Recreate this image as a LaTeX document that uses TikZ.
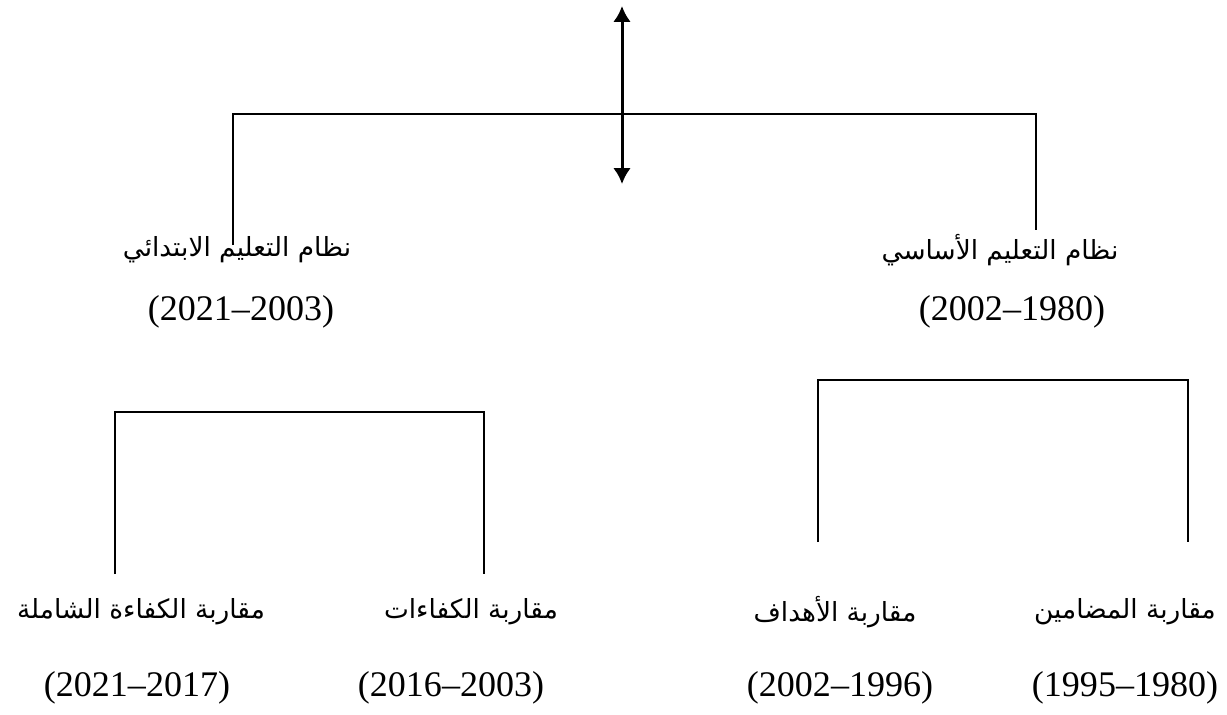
\documentclass[tikz,border=0pt]{standalone}
\usepackage{fontspec}
\setmainfont{Liberation Serif}
\newfontfamily\arabicfont[Script=Arabic]{DejaVu Sans}
\TeXXeTstate=1
\usepackage{tikz}
\usetikzlibrary{arrows.meta}

\begin{document}
\begin{tikzpicture}[x=0.02cm,y=-0.02cm,
	lbl/.style={inner sep=0pt,font=\arabicfont\fontsize{15}{18}\selectfont},
	yr/.style={inner sep=0pt,font=\fontsize{20.5}{24}\selectfont},
	ln/.style={draw=black,line width=0.9pt},
	updown/.style={draw=black,line width=1.7pt,{Latex[length=9pt,width=10pt]}-{Latex[length=9pt,width=10pt]}}]
	\useasboundingbox (0,0) rectangle (1227,714);

	% labels
	\node[lbl] (ibt) at (237, 250)  {\beginR نظام التعليم الابتدائي\endR};
	\node[lbl] (asa) at (1000, 250) {\beginR نظام التعليم الأساسي\endR};
	\node[yr]  (ibty) at (241, 312) {(2021–2003)};
	\node[yr]  (asay) at (1012, 312) {(2002–1980)};

	\node[lbl] (shm) at (141, 612)  {\beginR مقاربة الكفاءة الشاملة\endR};
	\node[lbl] (kaf) at (471, 612)  {\beginR مقاربة الكفاءات\endR};
	\node[lbl] (ahd) at (835, 612)  {\beginR مقاربة الأهداف\endR};
	\node[lbl] (mad) at (1125, 612) {\beginR مقاربة المضامين\endR};
	\node[yr]  (shmy) at (137, 688)  {(2021–2017)};
	\node[yr]  (kafy) at (451, 688)  {(2016–2003)};
	\node[yr]  (ahdy) at (840, 688)  {(2002–1996)};
	\node[yr]  (mady) at (1125, 688) {(1995–1980)};

	% corners
	\coordinate (up)   at (622, 6);
	\coordinate (down) at (622, 184);
	\coordinate (t1)  at (233, 114);
	\coordinate (t2)  at (1036, 114);
	\coordinate (t1e) at (233, 245);
	\coordinate (t2e) at (1036, 230);
	\coordinate (l1)  at (115, 412);
	\coordinate (l2)  at (484, 412);
	\coordinate (l1e) at (115, 574);
	\coordinate (l2e) at (484, 574);
	\coordinate (r1)  at (818, 380);
	\coordinate (r2)  at (1188, 380);
	\coordinate (r1e) at (818, 542);
	\coordinate (r2e) at (1188, 542);

	\path[ln] (t1e) -- (t1) -- (t2) -- (t2e);
	\path[ln] (l1e) -- (l1) -- (l2) -- (l2e);
	\path[ln] (r1e) -- (r1) -- (r2) -- (r2e);
	\path[updown] (down) -- (up);
\end{tikzpicture}
\end{document}
